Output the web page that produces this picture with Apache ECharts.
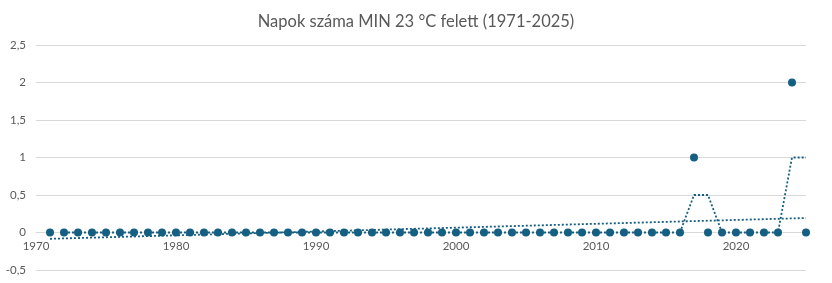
<!DOCTYPE html>
<html>
<head>
<meta charset="utf-8">
<script src="https://cdn.jsdelivr.net/npm/echarts@6/dist/echarts.min.js"></script>
<style>
  html, body { margin: 0; padding: 0; background: #fff; }
  #main { width: 832px; height: 283px; }
</style>
</head>
<body>
<div id="main"></div>
<script>
// évek és napok száma
var years = [1971,1972,1973,1974,1975,1976,1977,1978,1979,1980,
             1981,1982,1983,1984,1985,1986,1987,1988,1989,1990,
             1991,1992,1993,1994,1995,1996,1997,1998,1999,2000,
             2001,2002,2003,2004,2005,2006,2007,2008,2009,2010,
             2011,2012,2013,2014,2015,2016,2017,2018,2019,2020,
             2021,2022,2023,2024,2025];
var days = [0,0,0,0,0,0,0,0,0,0,
            0,0,0,0,0,0,0,0,0,0,
            0,0,0,0,0,0,0,0,0,0,
            0,0,0,0,0,0,0,0,0,0,
            0,0,0,0,0,0,1,0,0,0,
            0,0,0,2,0];
// 2 periódusos mozgóátlag (1972-től)
var avgYears = [1972,1973,1974,1975,1976,1977,1978,1979,1980,
                1981,1982,1983,1984,1985,1986,1987,1988,1989,1990,
                1991,1992,1993,1994,1995,1996,1997,1998,1999,2000,
                2001,2002,2003,2004,2005,2006,2007,2008,2009,2010,
                2011,2012,2013,2014,2015,2016,2017,2018,2019,2020,
                2021,2022,2023,2024,2025];
var avgValues = [0,0,0,0,0,0,0,0,0,
                 0,0,0,0,0,0,0,0,0,0,
                 0,0,0,0,0,0,0,0,0,0,
                 0,0,0,0,0,0,0,0,0,0,
                 0,0,0,0,0,0,0.5,0.5,0,0,
                 0,0,0,1,1];
// lineáris trend végpontjai
var trendYears = [1971, 2025];
var trendValues = [-0.084, 0.193];

var color = '#156082';

function pairs(xs, ys) {
    var out = [];
    for (var i = 0; i < xs.length; i++) out.push([xs[i], ys[i]]);
    return out;
}

var myChart = echarts.init(document.getElementById('main'));
var option = {
    animation: false,
    title: {
        text: 'Napok száma MIN 23 °C felett (1971-2025)',
        left: 'center',
        top: 8,
        textStyle: { color: '#595959', fontSize: 16.5, fontWeight: 'normal', fontFamily: 'Lato' }
    },
    grid: { left: 36, right: 26, top: 45, bottom: 13, outerBoundsMode: 'none', containLabel: false },
    xAxis: {
        type: 'value',
        min: 1970,
        max: 2025,
        interval: 10,
        offset: -37.5,
        axisLine: { show: true, onZero: false, lineStyle: { color: '#d9d9d9' } },
        axisTick: { show: false },
        splitLine: { show: false },
        axisLabel: {
            color: '#595959', fontSize: 11.5, fontFamily: 'Lato', margin: 8,
            showMaxLabel: false,
            formatter: function (v) { return String(v); }
        }
    },
    yAxis: {
        type: 'value',
        min: -0.5,
        max: 2.5,
        interval: 0.5,
        axisLine: { show: false },
        axisTick: { show: false },
        splitLine: { lineStyle: { color: '#d9d9d9' } },
        axisLabel: {
            color: '#595959', fontSize: 11.5, fontFamily: 'Lato', margin: 10,
            formatter: function (v) { return String(v).replace('.', ','); }
        }
    },
    series: [
        {
            type: 'line',
            data: pairs(trendYears, trendValues),
            symbol: 'none',
            lineStyle: { color: color, width: 1.8, type: [2, 2] },
            z: 1
        },
        {
            type: 'line',
            data: pairs(avgYears, avgValues),
            symbol: 'none',
            lineStyle: { color: color, width: 1.8, type: [2, 2] },
            z: 2
        },
        {
            type: 'scatter',
            data: pairs(years, days),
            symbolSize: 8,
            itemStyle: { color: color, opacity: 1 },
            z: 3
        }
    ]
};
myChart.setOption(option);
</script>
</body>
</html>
